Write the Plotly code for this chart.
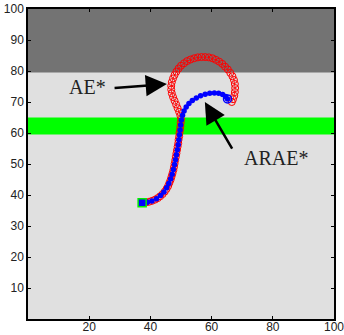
import plotly.graph_objects as go

# ARAE* trajectory (blue dots)
arae_x = [37.5, 39.0, 40.5, 42.0, 43.3, 44.4, 45.3, 46.0, 46.6, 47.1, 47.5, 47.9, 48.2, 48.5,
          48.8, 49.1, 49.3, 49.5, 49.7, 49.9, 50.1, 50.5, 51.0, 51.7, 52.6, 53.7, 55.0, 56.4,
          57.9, 59.4, 60.9, 62.3, 63.6, 64.6, 65.2]
arae_y = [37.5, 37.7, 38.1, 38.8, 39.8, 41.0, 42.3, 43.7, 45.2, 46.7, 48.2, 49.8, 51.4, 53.0,
          54.6, 56.2, 57.8, 59.4, 61.0, 62.6, 64.2, 65.7, 67.1, 68.4, 69.5, 70.5, 71.3, 72.0,
          72.5, 72.8, 72.9, 72.8, 72.4, 71.8, 71.0]

# AE* trajectory (red circles)
ae_x = [37.5, 38.5, 39.5, 40.5, 41.5, 42.4, 43.2, 44.0, 44.7, 45.3, 45.8, 46.2, 46.6, 46.9,
        47.2, 47.5, 47.7, 47.9, 48.1, 48.3, 48.5, 48.7, 48.9, 49.1, 49.2, 49.4, 49.5, 49.7,
        49.8, 49.9, 50.0, 49.8, 49.4, 48.9, 48.4, 47.9, 47.4, 47.0, 46.8, 46.8, 47.0, 47.4,
        47.9, 48.5, 49.2, 50.0, 51.0, 52.0, 53.1, 54.3, 55.5, 56.7, 57.9, 59.1, 60.3, 61.4,
        62.5, 63.5, 64.4, 65.3, 66.1, 66.8, 67.3, 67.6, 67.7, 67.6, 67.4, 67.0, 66.6]
ae_y = [37.5, 37.6, 37.8, 38.1, 38.5, 39.0, 39.6, 40.3, 41.1, 42.0, 42.9, 43.9, 44.9, 45.9,
        46.9, 48.0, 49.0, 50.1, 51.2, 52.3, 53.4, 54.5, 55.6, 56.7, 57.8, 58.9, 60.0, 61.1,
        62.2, 63.3, 64.4, 65.6, 66.8, 68.0, 69.2, 70.4, 71.6, 72.8, 74.0, 75.2, 76.4, 77.6,
        78.7, 79.8, 80.8, 81.7, 82.5, 83.2, 83.7, 84.1, 84.4, 84.5, 84.5, 84.4, 84.1, 83.6,
        83.0, 82.3, 81.4, 80.5, 79.4, 78.3, 77.1, 75.8, 74.5, 73.2, 72.0, 70.9, 70.0]

start_x = [37.3]
start_y = [37.5]
goal_x = [65.2]
goal_y = [71.0]

x_ticks = [20, 40, 60, 80, 100]
y_ticks = [10, 20, 30, 40, 50, 60, 70, 80, 90, 100]

# obstacle bands (y ranges)
dark_band = (79.5, 100)
green_band = (59.5, 65)

fig = go.Figure()

fig.add_shape(type="rect", xref="x", yref="y", x0=0, x1=100, y0=dark_band[0], y1=dark_band[1],
              fillcolor="#737373", line=dict(width=0), layer="below")
fig.add_shape(type="rect", xref="x", yref="y", x0=0, x1=100, y0=green_band[0], y1=green_band[1],
              fillcolor="#00ff00", line=dict(width=0), layer="below")

fig.add_trace(go.Scatter(x=ae_x, y=ae_y, mode="lines+markers", name="AE*",
                         line=dict(color="red", width=0.8),
                         marker=dict(symbol="circle-open", size=7, color="red", line=dict(width=1))))
fig.add_trace(go.Scatter(x=[37.5, 38.8, 40.2], y=[37.5, 37.6, 37.9], mode="lines",
                         line=dict(color="black", width=2.5), showlegend=False))
fig.add_trace(go.Scatter(x=arae_x, y=arae_y, mode="lines+markers", name="ARAE*",
                         line=dict(color="blue", width=1),
                         marker=dict(symbol="circle", size=5.5, color="blue")))
fig.add_trace(go.Scatter(x=start_x, y=start_y, mode="markers",
                         marker=dict(symbol="square", size=8, color="blue",
                                     line=dict(color="#00ee00", width=1.5))))
fig.add_trace(go.Scatter(x=goal_x, y=goal_y, mode="markers",
                         marker=dict(symbol="circle-open", size=8, color="blue", line=dict(width=1.5))))

fig.add_annotation(x=45.4, y=75.8, ax=27.8, ay=74.5, xref="x", yref="y", axref="x", ayref="y",
                   text="", showarrow=True, arrowhead=2, arrowsize=1.7, arrowwidth=2.5,
                   arrowcolor="black")
fig.add_annotation(x=19.4, y=74.8, xref="x", yref="y", text="AE*", showarrow=False,
                   font=dict(family="Liberation Serif", size=20, color="#222"))
fig.add_annotation(x=57.8, y=70.0, ax=67.0, ay=54.5, xref="x", yref="y", axref="x", ayref="y",
                   text="", showarrow=True, arrowhead=2, arrowsize=1.7, arrowwidth=2.5,
                   arrowcolor="black")
fig.add_annotation(x=81.2, y=51.9, xref="x", yref="y", text="ARAE*", showarrow=False,
                   font=dict(family="Liberation Serif", size=20, color="#222"))

axis_common = dict(showgrid=False, zeroline=False, showline=True, linecolor="black",
                   linewidth=1.5, mirror="ticks", ticks="inside", ticklen=3, tickwidth=1,
                   tickcolor="black", automargin=False, ticklabeloverflow="allow",
                   tickfont=dict(family="Liberation Sans", size=12, color="#222"))
fig.update_xaxes(range=[0, 100], tickvals=x_ticks, ticklabelstandoff=-4, **axis_common)
fig.update_yaxes(range=[0, 100], tickvals=y_ticks, **axis_common)

fig.update_layout(width=344, height=335, margin=dict(l=28, r=10, t=9, b=16),
                  plot_bgcolor="#e0e0e0", paper_bgcolor="white", showlegend=False)

fig.write_html("out.html", config={"displayModeBar": False},
               post_script="document.body.style.margin='0';document.body.style.overflow='hidden';")
